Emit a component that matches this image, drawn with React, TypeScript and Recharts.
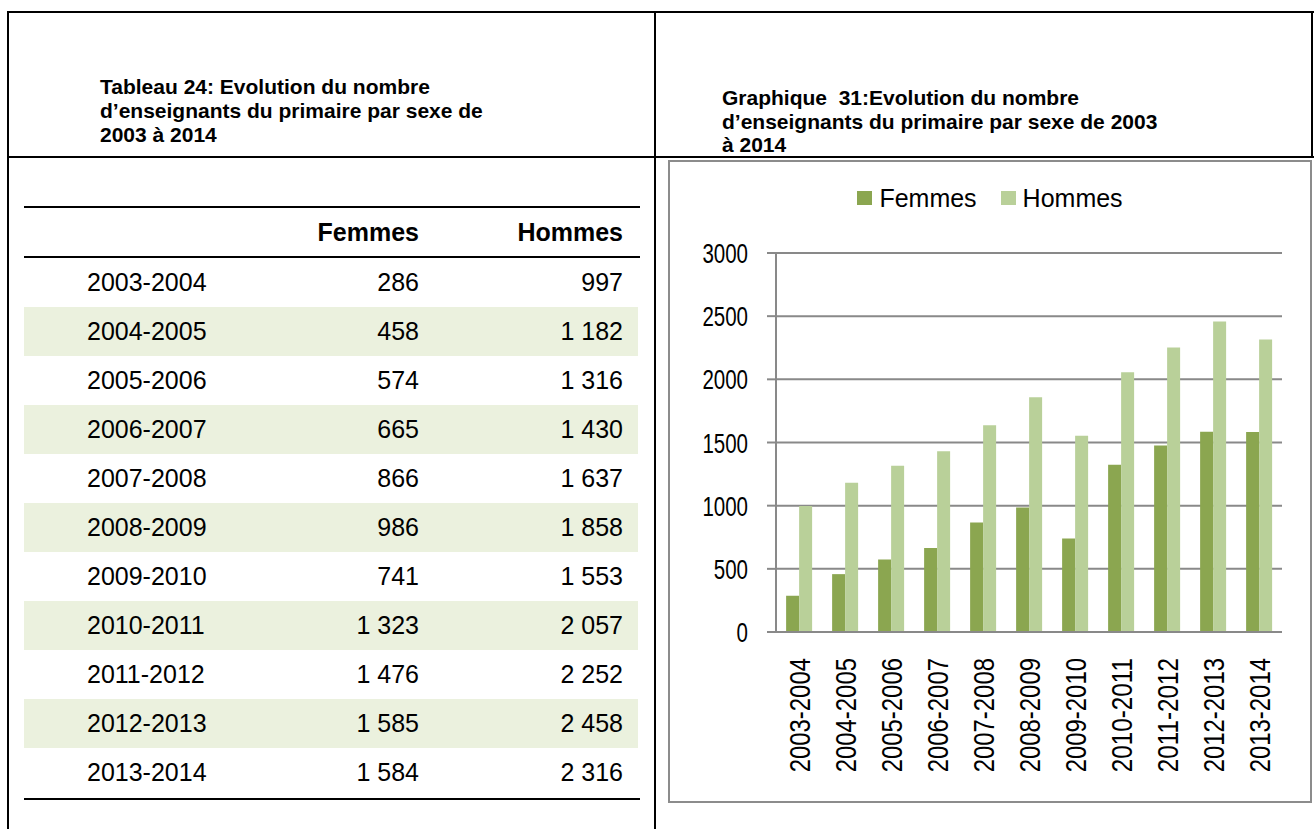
import { Bar, BarChart, CartesianGrid, Legend, XAxis, YAxis } from "recharts";

const years = [
  "2003-2004",
  "2004-2005",
  "2005-2006",
  "2006-2007",
  "2007-2008",
  "2008-2009",
  "2009-2010",
  "2010-2011",
  "2011-2012",
  "2012-2013",
  "2013-2014",
];
const femmes = [286, 458, 574, 665, 866, 986, 741, 1323, 1476, 1585, 1584];
const hommes = [997, 1182, 1316, 1430, 1637, 1858, 1553, 2057, 2252, 2458, 2316];
const yTicks = [0, 500, 1000, 1500, 2000, 2500, 3000];
const bandEdges = [0, 1, 2, 3, 4, 5, 6, 7, 8, 9, 10, 11];

const palette = {
  femmes: "#8ba650",
  hommes: "#b9d099",
  axis: "#898989",
  rowShade: "#ebf1de",
  box: "#8c8c8c",
};

const sans = "'Liberation Sans', Arial, sans-serif";

const data = years.map((year, i) => ({ year, Femmes: femmes[i], Hommes: hommes[i] }));

function fmt(n: number) {
  if (n < 1000) return String(n);
  return `${Math.floor(n / 1000)}\u00a0${String(n % 1000).padStart(3, "0")}`;
}

// the source chart uses a condensed face; squeeze Liberation Sans to match
function YearTick({ x, y, payload }: any) {
  const label = String(payload.value);
  return (
    <text
      x={x}
      y={y}
      transform={`rotate(-90, ${x}, ${y})`}
      textAnchor="end"
      dy="0.36em"
      fontFamily={sans}
      fontSize={30}
      fill="#000"
      textLength={label.length * 12.7}
      lengthAdjust="spacingAndGlyphs"
    >
      {label}
    </text>
  );
}

function ValueTick({ x, y, payload }: any) {
  const label = String(payload.value);
  return (
    <text
      x={x}
      y={y}
      textAnchor="end"
      dy="0.36em"
      fontFamily={sans}
      fontSize={28}
      fill="#000"
      textLength={label.length * 11.4}
      lengthAdjust="spacingAndGlyphs"
    >
      {label}
    </text>
  );
}

function LegendBox() {
  const items = [
    { name: "Femmes", color: palette.femmes },
    { name: "Hommes", color: palette.hommes },
  ];
  return (
    <div style={{ display: "flex", justifyContent: "center", gap: 24, fontFamily: sans, fontSize: 25, lineHeight: "30px" }}>
      {items.map((it) => (
        <div key={it.name} style={{ display: "flex", alignItems: "center", gap: 7 }}>
          <span style={{ width: 15, height: 14, background: it.color, display: "inline-block" }} />
          <span>{it.name}</span>
        </div>
      ))}
    </div>
  );
}

const line = (style: React.CSSProperties) => (
  <div style={{ position: "absolute", background: "#000", ...style }} />
);

export default function App() {
  return (
    <div style={{ position: "absolute", left: 0, top: 0, width: 1314, height: 829, background: "#fff", fontFamily: sans }}>
      {/* frame */}
      {line({ left: 7, top: 11, width: 1307, height: 2 })}
      {line({ left: 7, top: 11, width: 2, height: 818 })}
      {line({ left: 654, top: 11, width: 2, height: 818 })}
      {line({ left: 1311, top: 11, width: 2, height: 147 })}
      {line({ left: 7, top: 156, width: 1307, height: 2 })}

      <div style={{ position: "absolute", left: 100, top: 75, fontWeight: "bold", fontSize: 21, lineHeight: "24px" }}>
        Tableau 24: Evolution du nombre
        <br />
        d’enseignants du primaire par sexe de
        <br />
        2003 à 2014
      </div>
      <div style={{ position: "absolute", left: 722, top: 86, fontWeight: "bold", fontSize: 21, lineHeight: "23.5px" }}>
        Graphique&nbsp; 31:Evolution du nombre
        <br />
        d’enseignants du primaire par sexe de 2003
        <br />à 2014
      </div>

      {/* table */}
      {line({ left: 24, top: 206, width: 616, height: 2 })}
      {line({ left: 24, top: 256, width: 616, height: 2 })}
      {line({ left: 24, top: 798, width: 616, height: 2 })}
      <div style={{ position: "absolute", top: 208, height: 48, right: 1314 - 419, lineHeight: "48px", fontSize: 25, fontWeight: "bold" }}>
        Femmes
      </div>
      <div style={{ position: "absolute", top: 208, height: 48, right: 1314 - 623, lineHeight: "48px", fontSize: 25, fontWeight: "bold" }}>
        Hommes
      </div>
      {years.map((y, i) => (
        <div
          key={y}
          style={{
            position: "absolute",
            left: 24,
            top: 258 + i * 49,
            width: 614,
            height: 49,
            background: i % 2 === 1 ? palette.rowShade : "transparent",
            fontSize: 25,
            lineHeight: "49px",
          }}
        >
          <span style={{ position: "absolute", left: 63 }}>{y}</span>
          <span style={{ position: "absolute", right: 638 - 419 }}>{fmt(femmes[i])}</span>
          <span style={{ position: "absolute", right: 638 - 623 }}>{fmt(hommes[i])}</span>
        </div>
      ))}

      {/* chart */}
      <div style={{ position: "absolute", left: 668, top: 161 }}>
        <BarChart
          width={644}
          height={642}
          data={data}
          margin={{ top: 92, right: 30, bottom: 0, left: 0 }}
          barCategoryGap="22%"
          barGap={0}
        >
          <CartesianGrid vertical={false} stroke={palette.axis} strokeWidth={2} />
          <XAxis
            xAxisId="edges"
            type="number"
            domain={[0, 11]}
            allowDataOverflow
            ticks={bandEdges}
            tick={() => <g />}
            tickSize={7}
            height={0}
            axisLine={false}
            tickLine={{ stroke: palette.axis, strokeWidth: 2 }}
          />
          <XAxis
            dataKey="year"
            interval={0}
            tick={<YearTick />}
            tickLine={false}
            tickSize={0}
            tickMargin={26}
            height={171}
            axisLine={{ stroke: palette.axis, strokeWidth: 2 }}
          />
          <YAxis
            domain={[0, 3000]}
            ticks={yTicks}
            width={108}
            tickSize={9}
            tickMargin={19}
            tick={<ValueTick />}
            tickLine={{ stroke: palette.axis, strokeWidth: 2 }}
            axisLine={{ stroke: palette.axis, strokeWidth: 2 }}
          />
          <Legend
            verticalAlign="middle"
            align="center"
            content={() => <LegendBox />}
            wrapperStyle={{ top: 22, left: 0, width: 644 }}
          />
          <Bar dataKey="Femmes" fill={palette.femmes} isAnimationActive={false} />
          <Bar dataKey="Hommes" fill={palette.hommes} isAnimationActive={false} />
        </BarChart>
      </div>
      <div
        style={{
          position: "absolute",
          left: 668,
          top: 160,
          width: 640,
          height: 639,
          border: `2px solid ${palette.box}`,
          pointerEvents: "none",
        }}
      />
    </div>
  );
}
